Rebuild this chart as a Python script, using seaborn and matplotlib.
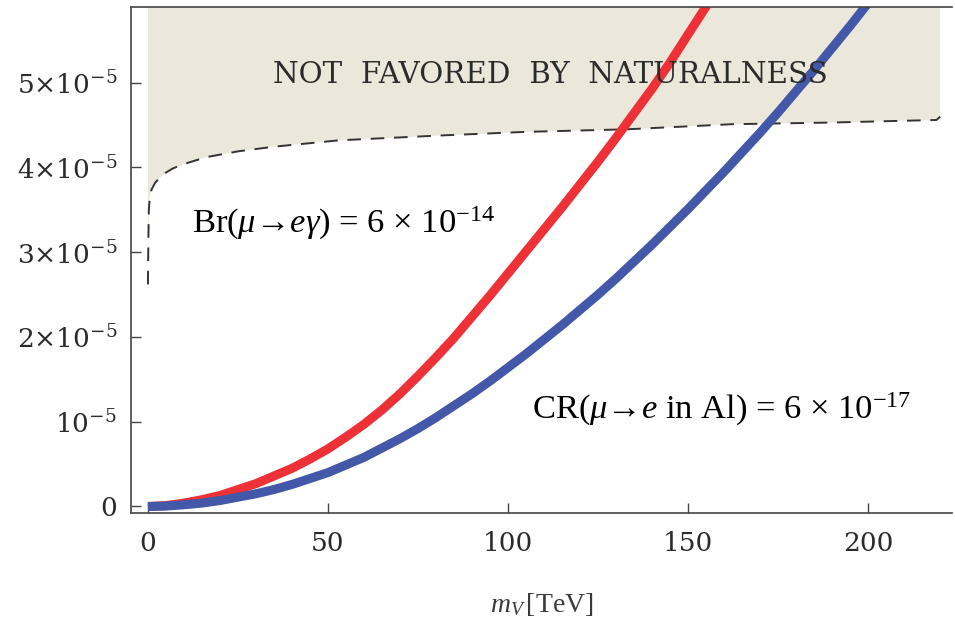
import numpy as np
import pandas as pd
import matplotlib
matplotlib.use("Agg")
import matplotlib.pyplot as plt
import seaborn as sns
from matplotlib.ticker import FixedLocator, FixedFormatter

# Curves are given in units of 1e-5
SCALE = 1e-5

# Br(mu -> e gamma) = 6e-14 contour
meg_mass = [0, 5, 10, 15, 20, 25, 30, 35, 40, 45, 50, 55, 60, 65, 70, 75, 80, 85,
            90, 95, 100, 105, 110, 115, 120, 125, 130, 135, 140, 145, 150, 155, 160]
meg_value = [0, 0.01, 0.04, 0.08, 0.13, 0.20, 0.27, 0.36, 0.45, 0.56, 0.68, 0.82,
             0.97, 1.14, 1.33, 1.54, 1.76, 1.99, 2.24, 2.49, 2.75, 3.01, 3.27, 3.53,
             3.80, 4.07, 4.35, 4.64, 4.93, 5.24, 5.57, 5.90, 6.25]

# CR(mu -> e in Al) = 6e-17 contour
mue_mass = [0, 5, 10, 15, 20, 25, 30, 35, 40, 45, 50, 55, 60, 65, 70, 75, 80, 85,
            90, 95, 100, 105, 110, 115, 120, 125, 130, 135, 140, 145, 150, 155, 160,
            165, 170, 175, 180, 185, 190, 195, 200]
mue_value = [0, 0.005, 0.02, 0.04, 0.07, 0.11, 0.15, 0.20, 0.26, 0.33, 0.40, 0.49,
             0.58, 0.69, 0.80, 0.92, 1.05, 1.19, 1.33, 1.48, 1.64, 1.80, 1.97, 2.14,
             2.32, 2.50, 2.69, 2.89, 3.09, 3.30, 3.51, 3.73, 3.95, 4.18, 4.41, 4.65,
             4.90, 5.15, 5.41, 5.67, 5.94]

# naturalness bound (dashed)
nat_mass = [0, 0.1, 0.25, 0.5, 1, 2, 3.3, 5, 7, 10, 16, 25, 35, 53, 80, 105, 133,
            162, 190, 209, 219, 220]
nat_value = [2.62, 3.1, 3.5, 3.65, 3.74, 3.82, 3.88, 3.94, 3.99, 4.04, 4.12, 4.19,
             4.245, 4.32, 4.375, 4.42, 4.45, 4.51, 4.53, 4.55, 4.56, 4.60]

x_ticks = [0, 50, 100, 150, 200]
x_tick_labels = ["0", "50", "100", "150", "200"]
y_ticks = [0, 1, 2, 3, 4, 5]
y_tick_labels = [r"$0$", r"$10^{-5}$", r"$2{\times}10^{-5}$", r"$3{\times}10^{-5}$",
                 r"$4{\times}10^{-5}$", r"$5{\times}10^{-5}$"]

RED = "#ee3037"
BLUE = "#4358a8"
SHADE = "#ebe7db"
INK = "#2b2b2b"

sns.set_theme(style="white")
plt.rcParams["font.family"] = ["DejaVu Serif", "DejaVu Sans"]
plt.rcParams["mathtext.fontset"] = "dejavuserif"
plt.rcParams["mathtext.rm"] = "Liberation Serif"
plt.rcParams["mathtext.it"] = "Liberation Serif:italic"
plt.rcParams["mathtext.bf"] = "Liberation Serif:bold"

fig = plt.figure(figsize=(9.55, 6.26), dpi=100)
ax = fig.add_axes([0.1372, 0.1805, 0.8597, 0.8083])

nat_y = np.array(nat_value) * SCALE
ax.fill_between(nat_mass, nat_y, 1.0, color=SHADE, lw=0, zorder=0)
sns.lineplot(x=nat_mass, y=nat_y, ax=ax, color="#333333", lw=1.4,
             linestyle=(0, (7, 5)), estimator=None, sort=False, zorder=1)

curves = pd.concat([
    pd.DataFrame({"mass": meg_mass, "value": np.array(meg_value) * SCALE,
                  "process": "meg"}),
    pd.DataFrame({"mass": mue_mass, "value": np.array(mue_value) * SCALE,
                  "process": "mue"}),
])
sns.lineplot(data=curves, x="mass", y="value", hue="process",
             palette={"meg": RED, "mue": BLUE}, lw=6.5, ax=ax, legend=False,
             estimator=None, sort=False, zorder=2, solid_capstyle="butt",
             solid_joinstyle="round")

ax.set_xlim(-4.7, 223.3)
ax.set_ylim(-0.077 * SCALE, 5.893 * SCALE)

ax.xaxis.set_major_locator(FixedLocator(x_ticks))
ax.xaxis.set_major_formatter(FixedFormatter(x_tick_labels))
ax.yaxis.set_major_locator(FixedLocator([v * SCALE for v in y_ticks]))
ax.yaxis.set_major_formatter(FixedFormatter(y_tick_labels))

ax.tick_params(axis="both", direction="in", length=7, width=1.0, color="#444444",
               labelsize=19, labelcolor=INK, bottom=True, left=True,
               top=False, right=False)
ax.tick_params(axis="x", pad=13)
ax.tick_params(axis="y", pad=10)

for side in ("left", "bottom", "top"):
    ax.spines[side].set_visible(True)
    ax.spines[side].set_color("#444444")
    ax.spines[side].set_linewidth(1.2)
ax.spines["right"].set_visible(False)

ax.set_xlabel(r"$m_V\,[\mathrm{TeV}]$", fontsize=20, color="#3a3a3a",
              math_fontfamily="custom")
ax.xaxis.set_label_coords(0.5, -0.155)
ax.set_ylabel("")

ax.text(111.7, 5.09 * SCALE, "NOT  FAVORED  BY  NATURALNESS", ha="center",
        va="center", fontsize=21.2, color=INK, zorder=3)
ax.text(12.2, 3.23 * SCALE, r"Br($\mu$→$e\gamma$) = 6 × 10$^{-14}$",
        ha="left", va="baseline", fontsize=24.8, color="black",
        family=["Liberation Serif", "DejaVu Serif"], math_fontfamily="custom",
        zorder=3)
ax.text(106.7, 1.03 * SCALE, r"CR($\mu$→$e$ in Al) = 6 × 10$^{-17}$",
        ha="left", va="baseline", fontsize=24.8, color="black",
        family=["Liberation Serif", "DejaVu Serif"], math_fontfamily="custom",
        zorder=3)

fig.savefig("out.png", dpi=100, facecolor="white")
